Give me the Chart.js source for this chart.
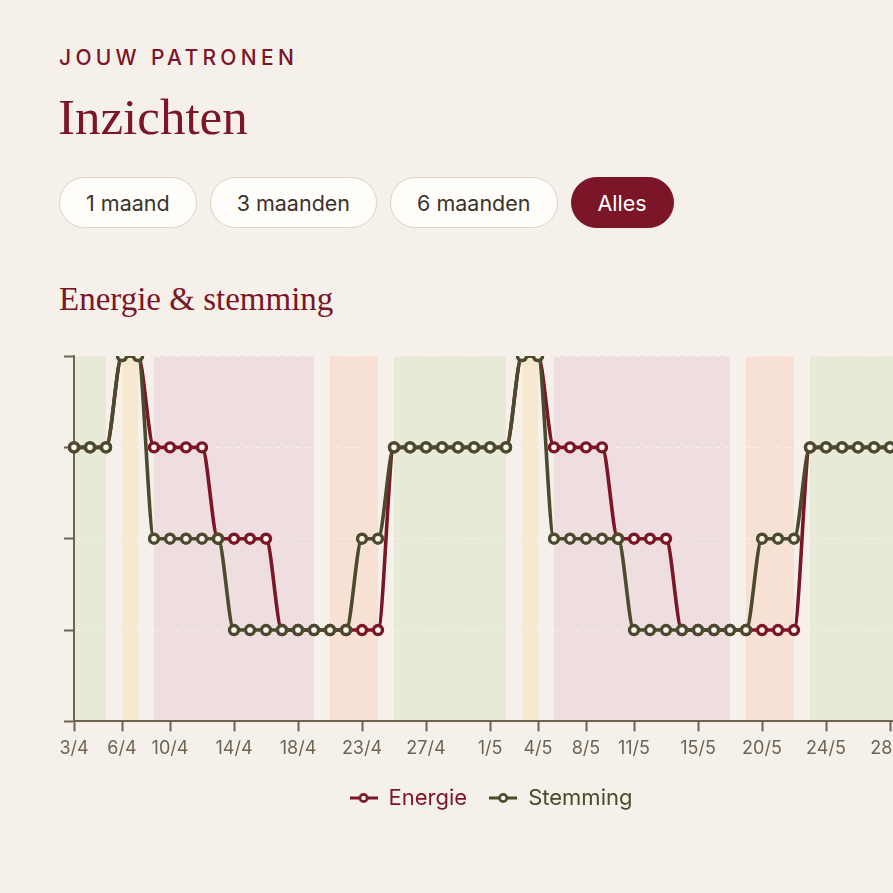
<!DOCTYPE html>
<html lang="nl">
<head>
<meta charset="utf-8">
<title>Inzichten</title>
<script src="https://cdn.jsdelivr.net/npm/chart.js@4.4.1/dist/chart.umd.min.js"></script>
<style>
  html, body { margin: 0; padding: 0; }
  body {
    width: 893px; height: 893px; overflow: hidden; position: relative;
    background: #f6f0ea; font-family: Inter, "Noto Sans", sans-serif;
  }
  .kicker {
    position: absolute; left: 59px; top: 45px; margin: 0;
    font-size: 21px; letter-spacing: 4.3px; color: #7a1627; font-weight: 450;
  }
  h1 {
    position: absolute; left: 58px; top: 92px; margin: 0;
    font-family: "Liberation Serif", "DejaVu Serif", serif; font-weight: normal;
    font-size: 51px; color: #7a1627; line-height: 1;
  }
  .pills { position: absolute; left: 59px; top: 177px; display: flex; gap: 13px; }
  .pill {
    box-sizing: border-box; height: 51px; padding: 0 26px; border-radius: 26px;
    border: 1.5px solid #ddd2c3; background: #fffdfa; color: #3a332c;
    font-size: 21.5px; display: flex; align-items: center;
  }
  .pill.on { background: #7a1627; border-color: #7a1627; color: #fff; }
  h2 {
    position: absolute; left: 59px; top: 283px; margin: 0;
    font-family: "Liberation Serif", "DejaVu Serif", serif; font-weight: normal;
    font-size: 33px; color: #7a1627; line-height: 1;
  }
  #wrap { position: absolute; left: 50px; top: 346px; width: 888px; height: 483px; }
</style>
</head>
<body>
<p class="kicker">JOUW PATRONEN</p>
<h1>Inzichten</h1>
<div class="pills">
  <div class="pill">1 maand</div>
  <div class="pill">3 maanden</div>
  <div class="pill">6 maanden</div>
  <div class="pill on">Alles</div>
</div>
<h2>Energie &amp; stemming</h2>
<div id="wrap"><canvas id="myChart"></canvas></div>
<script>
// the axis runs on past the last logged day, off the right edge
var dates = ["3/4", "4/4", "5/4", "6/4", "7/4", "8/4", "10/4", "11/4", "12/4", "13/4",
  "14/4", "15/4", "16/4", "17/4", "18/4", "19/4", "20/4", "22/4", "23/4", "24/4",
  "25/4", "26/4", "27/4", "28/4", "29/4", "30/4", "1/5", "2/5", "3/5", "4/5",
  "5/5", "7/5", "8/5", "9/5", "10/5", "11/5", "12/5", "13/5", "14/5", "15/5",
  "16/5", "17/5", "19/5", "20/5", "21/5", "22/5", "23/5", "24/5", "25/5", "26/5",
  "27/5", "28/5", "29/5", "30/5"];

var shownDates = ["3/4", "6/4", "10/4", "14/4", "18/4", "23/4", "27/4", "1/5", "4/5",
  "8/5", "11/5", "15/5", "20/5", "24/5", "28/5"];

var energie = [4, 4, 4, 5, 5, 4, 4, 4, 4, 3,
  3, 3, 3, 2, 2, 2, 2, 2, 2, 2,
  4, 4, 4, 4, 4, 4, 4, 4, 5, 5,
  4, 4, 4, 4, 3, 3, 3, 3, 2, 2,
  2, 2, 2, 2, 2, 2, 4, 4, 4, 4,
  4, 4];

var stemming = [4, 4, 4, 5, 5, 3, 3, 3, 3, 3,
  2, 2, 2, 2, 2, 2, 2, 2, 3, 3,
  4, 4, 4, 4, 4, 4, 4, 4, 5, 5,
  3, 3, 3, 3, 3, 2, 2, 2, 2, 2,
  2, 2, 2, 3, 3, 3, 4, 4, 4, 4,
  4, 4];

// cycle phases shaded behind the lines (first and last date of each)
var phaseStart = ["3/4", "6/4", "8/4", "20/4", "25/4", "3/5", "5/5", "19/5", "23/5"];
var phaseEnd = ["5/4", "7/4", "19/4", "24/4", "2/5", "4/5", "17/5", "22/5", "30/5"];
var phaseKind = ["folliculair", "ovulatie", "menstruatie", "luteaal", "folliculair", "ovulatie", "menstruatie", "luteaal", "folliculair"];

var
  red = "#7a1627",
  olive = "#4b4a2c",
  axisGrey = "#6b6552",
  pointFill = "#fbf7f0",
  phaseColors = {
    folliculair: "#e6ead6",
    ovulatie: "#f7e9d1",
    menstruatie: "#eedee0",
    luteaal: "#f6e1d4"
  };

var phaseBands = {
  id: "phaseBands",
  beforeDraw: function(chart) {
    var c = chart.ctx, x = chart.scales.x, area = chart.chartArea;
    c.save();
    for (var i = 0; i < phaseStart.length; i++) {
      var x0 = x.getPixelForValue(dates.indexOf(phaseStart[i]));
      var x1 = x.getPixelForValue(dates.indexOf(phaseEnd[i]));
      c.fillStyle = phaseColors[phaseKind[i]];
      c.fillRect(x0, area.top, x1 - x0, area.bottom - area.top);
    }
    c.restore();
  }
};

function legendMark(color) {
  var cv = document.createElement("canvas");
  cv.width = 28; cv.height = 12;
  var c = cv.getContext("2d");
  c.strokeStyle = color; c.lineWidth = 3;
  c.beginPath(); c.moveTo(0, 6); c.lineTo(28, 6); c.stroke();
  c.fillStyle = pointFill; c.lineWidth = 2.6;
  c.beginPath(); c.arc(14, 6, 3.6, 0, Math.PI * 2); c.fill(); c.stroke();
  return cv;
}
var marks = [legendMark(red), legendMark(olive)];

function lineSet(label, data, color, order) {
  return {
    label: label,
    data: data,
    borderColor: color,
    backgroundColor: pointFill,
    borderWidth: 3.6,
    pointRadius: 4.5,
    pointBorderWidth: 3.4,
    pointBackgroundColor: pointFill,
    pointBorderColor: color,
    cubicInterpolationMode: "monotone",
    order: order
  };
}

var ctx = document.getElementById("myChart").getContext("2d");
var myChart = new Chart(ctx, {
  type: "line",
  data: {
    labels: dates,
    datasets: [
      lineSet("Energie", energie, red, 1),
      lineSet("Stemming", stemming, olive, 0)
    ]
  },
  options: {
    responsive: true,
    maintainAspectRatio: false,
    animation: false,
    layout: { padding: { top: 10, right: 16, bottom: 10, left: 10 } },
    scales: {
      x: {
        ticks: {
          autoSkip: false, maxRotation: 0, padding: 6,
          color: axisGrey, font: { family: "Inter", size: 18 }
        },
        afterBuildTicks: function(scale) {
          scale.ticks = scale.ticks.filter(function(t) {
            return shownDates.indexOf(dates[t.value]) !== -1;
          });
        },
        grid: { drawOnChartArea: false, tickLength: 10, tickColor: axisGrey, tickWidth: 2 },
        border: { color: axisGrey, width: 2 }
      },
      y: {
        min: 1, max: 5,
        ticks: { stepSize: 1, display: false },
        afterFit: function(scale) { scale.width = 14; },
        grid: {
          color: "rgba(255,255,255,0.45)", lineWidth: 1,
          tickLength: 10, tickColor: axisGrey, tickWidth: 2, tickBorderDash: []
        },
        border: { color: axisGrey, width: 2, dash: [5, 5] }
      }
    },
    plugins: {
      tooltip: { enabled: false },
      legend: {
        position: "bottom",
        labels: {
          usePointStyle: true,
          pointStyleWidth: 28,
          padding: 22,
          font: { family: "Inter", size: 22 },
          sort: function(a, b) { return a.datasetIndex - b.datasetIndex; },
          generateLabels: function(chart) {
            var items = Chart.defaults.plugins.legend.labels.generateLabels(chart);
            items.forEach(function(it) {
              var ds = chart.data.datasets[it.datasetIndex];
              it.fontColor = ds.borderColor;
              it.pointStyle = marks[it.datasetIndex];
            });
            return items;
          }
        }
      }
    }
  },
  plugins: [phaseBands]
});
</script>
</body>
</html>
